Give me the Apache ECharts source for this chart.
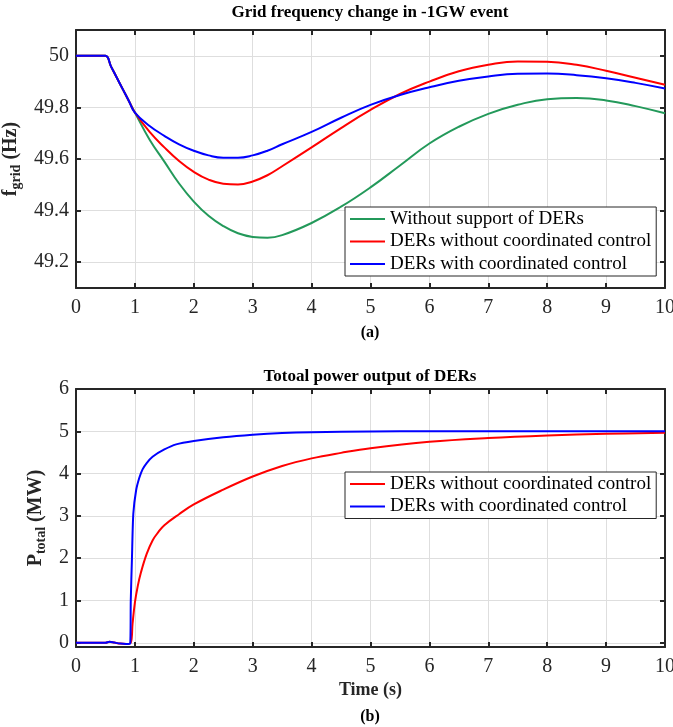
<!DOCTYPE html>
<html>
<head>
<meta charset="utf-8">
<script src="https://cdn.jsdelivr.net/npm/echarts@6/dist/echarts.min.js"></script>
<style>
  html, body { margin: 0; padding: 0; background: #fff; }
  #chart { width: 673px; height: 727px; }
</style>
</head>
<body>
<div id="chart"></div>
<script>
// (a) grid frequency, Hz
const tFreq = [0, 0.4, 0.5, 0.6, 0.7, 0.8, 0.9, 1, 1.25, 1.5, 1.75, 2, 2.25, 2.5, 2.75, 3, 3.25, 3.5, 4, 4.5, 5, 5.5, 6, 6.5, 7, 7.5, 8, 8.5, 9, 9.5, 10];
const fNoDer = [50, 50, 50, 49.956, 49.912, 49.868, 49.824, 49.78, 49.675, 49.59, 49.505, 49.435, 49.38, 49.34, 49.312, 49.298, 49.295, 49.305, 49.352, 49.415, 49.49, 49.575, 49.66, 49.725, 49.775, 49.81, 49.832, 49.836, 49.827, 49.805, 49.777];
const fNoCoord = [50, 50, 50, 49.956, 49.912, 49.868, 49.824, 49.78, 49.705, 49.645, 49.592, 49.55, 49.52, 49.504, 49.501, 49.513, 49.537, 49.572, 49.645, 49.72, 49.79, 49.852, 49.9, 49.94, 49.965, 49.978, 49.977, 49.965, 49.942, 49.915, 49.888];
const fCoord = [50, 50, 50, 49.956, 49.912, 49.868, 49.824, 49.78, 49.728, 49.69, 49.657, 49.632, 49.614, 49.605, 49.605, 49.614, 49.632, 49.657, 49.705, 49.76, 49.81, 49.848, 49.878, 49.903, 49.92, 49.93, 49.931, 49.925, 49.913, 49.895, 49.873];

// (b) total DER power, MW
const tRed = [0, 0.5, 0.57, 0.65, 0.75, 0.85, 0.93, 0.96, 1, 1.05, 1.1, 1.2, 1.3, 1.4, 1.5, 1.75, 2, 2.5, 3, 3.5, 4, 4.5, 5, 6, 7, 8, 9, 10];
const pNoCoord = [0, 0, 0.025, 0.005, -0.02, -0.03, 0, 0.45, 0.95, 1.35, 1.65, 2.1, 2.42, 2.62, 2.78, 3.04, 3.27, 3.62, 3.93, 4.18, 4.36, 4.49, 4.6, 4.75, 4.84, 4.9, 4.94, 4.965];
const tBlue = [0, 0.5, 0.57, 0.65, 0.75, 0.85, 0.92, 0.93, 0.95, 0.973, 1.02, 1.075, 1.13, 1.2, 1.3, 1.5, 1.7, 2, 2.5, 3, 3.5, 4, 5, 6, 7, 8, 9, 10];
const pCoord = [0, 0, 0.025, 0.005, -0.02, -0.03, -0.02, 1.0, 2.0, 3.05, 3.6, 3.9, 4.1, 4.25, 4.4, 4.57, 4.69, 4.77, 4.86, 4.92, 4.96, 4.98, 4.995, 5, 5, 5, 5, 5];

const nameNoDer = 'Without support of DERs';
const nameNoCoord = 'DERs without coordinated control';
const nameCoord = 'DERs with coordinated control';

const FONT = '"Liberation Serif", "Times New Roman", serif';
const INK = '#262626';
const GREEN = '#23995a', RED = '#ff0000', BLUE = '#0000ff';

const pairs = (xs, ys) => xs.map((x, i) => [x, ys[i]]);

const boxLine = { show: true, onZero: false, lineStyle: { color: INK, width: 2 } };
const tick = { show: true, inside: true, length: 5, lineStyle: { color: INK, width: 2 } };
const label = { color: INK, fontFamily: FONT, fontSize: 20 };
const grid = { show: true, lineStyle: { color: '#dedede', width: 1 } };

function xAxes(gi, withName) {
  return [
    {
      gridIndex: gi, type: 'value', min: 0, max: 10, interval: 1, position: 'bottom',
      axisLine: boxLine, axisTick: tick, splitLine: grid,
      axisLabel: Object.assign({ margin: 10 }, label),
      name: withName ? 'Time (s)' : '', nameLocation: 'middle', nameGap: 34,
      nameTextStyle: { color: INK, fontFamily: FONT, fontSize: 18, fontWeight: 'bold' }
    },
    {
      gridIndex: gi, type: 'value', min: 0, max: 10, interval: 1, position: 'top',
      axisLine: boxLine, axisTick: tick, splitLine: { show: false }, axisLabel: { show: false }
    }
  ];
}

function yAxes(gi, min, max, split, name, nameGap, hideMax) {
  const rich = {
    m: { fontFamily: FONT, fontSize: 20, fontWeight: 'bold', color: INK, lineHeight: 24 },
    s: { fontFamily: FONT, fontSize: 14, fontWeight: 'bold', color: INK, verticalAlign: 'bottom', lineHeight: 24, padding: [11, 0, 0, 0] }
  };
  return [
    {
      gridIndex: gi, type: 'value', min: min, max: max, splitNumber: split, position: 'left',
      axisLine: boxLine, axisTick: tick, splitLine: grid,
      axisLabel: Object.assign({ margin: 7, showMinLabel: false, showMaxLabel: !hideMax }, label),
      name: name, nameLocation: 'middle', nameGap: nameGap,
      nameTextStyle: { rich: rich }
    },
    {
      gridIndex: gi, type: 'value', min: min, max: max, splitNumber: split, position: 'right',
      axisLine: boxLine, axisTick: tick, splitLine: { show: false }, axisLabel: { show: false }
    }
  ];
}

const legendBase = {
  orient: 'vertical', left: 345, icon: 'rect', itemWidth: 35, itemHeight: 2, itemGap: 0.5,
  padding: [1, 5, 1, 5], borderColor: INK, borderWidth: 1, backgroundColor: '#fff', borderRadius: 0,
  textStyle: { fontFamily: FONT, fontSize: 19, color: '#000', lineHeight: 22 }
};

const lineSeries = (name, data, color, xi, yi, smooth) => ({
  name: name, type: 'line', data: data, xAxisIndex: xi, yAxisIndex: yi,
  showSymbol: false, symbol: 'none', smooth: smooth,
  lineStyle: { color: color, width: 2 }, itemStyle: { color: color },
  animation: false
});

const titleStyle = { fontFamily: FONT, fontSize: 17, fontWeight: 'bold', color: '#000' };

const chart = echarts.init(document.getElementById('chart'), null, { renderer: 'canvas' });

chart.setOption({
  backgroundColor: '#fff',
  animation: false,
  title: [
    { text: 'Grid frequency change in -1GW event', left: 370, top: 4, textAlign: 'center', padding: 0, textStyle: titleStyle },
    { text: '(a)', left: 370, top: 325, textAlign: 'center', padding: 0, textStyle: Object.assign({}, titleStyle, { fontSize: 16 }) },
    { text: 'Totoal power output of DERs', left: 370, top: 368, textAlign: 'center', padding: 0, textStyle: titleStyle },
    { text: '(b)', left: 370, top: 709, textAlign: 'center', padding: 0, textStyle: Object.assign({}, titleStyle, { fontSize: 16 }) }
  ],
  legend: [
    Object.assign({}, legendBase, { top: 207, data: [nameNoDer, nameNoCoord, nameCoord] }),
    Object.assign({}, legendBase, { top: 472, data: [nameNoCoord, nameCoord] })
  ],
  grid: [
    { left: 76, right: 8, top: 30, height: 258, outerBoundsMode: 'none', containLabel: false },
    { left: 76, right: 8, top: 389, height: 258, outerBoundsMode: 'none', containLabel: false }
  ],
  xAxis: xAxes(0, false).concat(xAxes(1, true)),
  yAxis: yAxes(0, 49.1, 50.1, 5, '{m|f}{s|grid}{m| (Hz)}', 40, true)
    .concat(yAxes(1, -0.1, 6, 6, '{m|P}{s|total}{m| (MW)}', 27, false)),
  series: [
    lineSeries(nameNoDer, pairs(tFreq, fNoDer), GREEN, 0, 0, 0.45),
    lineSeries(nameNoCoord, pairs(tFreq, fNoCoord), RED, 0, 0, 0.45),
    lineSeries(nameCoord, pairs(tFreq, fCoord), BLUE, 0, 0, 0.45),
    lineSeries(nameNoCoord, pairs(tRed, pNoCoord), RED, 2, 2, 0.4),
    lineSeries(nameCoord, pairs(tBlue, pCoord), BLUE, 2, 2, 0.25)
  ]
});

window.addEventListener('resize', () => chart.resize());
</script>
</body>
</html>
